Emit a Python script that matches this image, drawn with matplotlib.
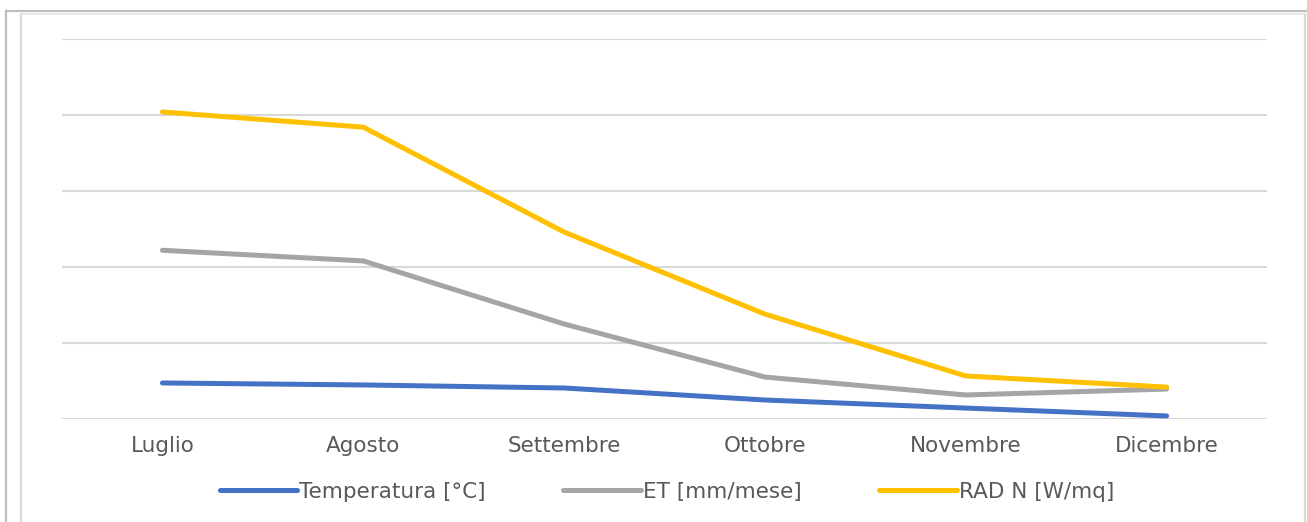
import numpy as np
import matplotlib.pyplot as plt
from matplotlib.lines import Line2D

# dati
mesi = ['Luglio', 'Agosto', 'Settembre', 'Ottobre', 'Novembre', 'Dicembre']
temperatura = [23.7, 22.4, 20.4, 12.5, 7.2, 2.0]
et = [111, 104, 62.5, 27.6, 15.8, 19.7]
rad = [202, 192, 123, 69, 28.3, 21]

plt.rcParams['font.family'] = ['DejaVu Sans']

W, H = 1307, 522
fig = plt.figure(figsize=(W / 100, H / 100), dpi=100)
ax = fig.add_axes([62 / W, 1 - 419 / H, (1267 - 62) / W, (419 - 39) / H])

x = np.arange(len(mesi))
ax.plot(x, temperatura, color='#4472C4', lw=3.6, solid_capstyle='round', label='Temperatura [°C]')
ax.plot(x, et, color='#A5A5A5', lw=3.6, solid_capstyle='round', label='ET [mm/mese]')
ax.plot(x, rad, color='#FFC000', lw=3.6, solid_capstyle='round', label='RAD N [W/mq]')

ax.set_xlim(-0.5, len(mesi) - 0.5)
ax.set_ylim(0, 250)
ax.set_yticks(np.arange(0, 251, 50))
ax.set_yticklabels([])
ax.yaxis.grid(True, color='#d9d9d9', lw=1.5)
ax.set_axisbelow(True)
ax.tick_params(axis='y', length=0)
ax.set_xticks(x)
ax.set_xticklabels(mesi, fontsize=15.5, color='#595959')
ax.tick_params(axis='x', length=0, pad=12)
for s in ax.spines.values():
    s.set_visible(False)

leg = ax.legend(loc='center', bbox_to_anchor=(667 / W, 1 - 492 / H), bbox_transform=fig.transFigure,
                ncol=3, frameon=False, fontsize=15.5, handlelength=3.6, handletextpad=0.1,
                columnspacing=3.6)
for t in leg.get_texts():
    t.set_color('#595959')

# cornice del grafico
def px_line(xs, ys, c, lw):
    fig.add_artist(Line2D([v / W for v in xs], [1 - v / H for v in ys], color=c, lw=lw,
                          transform=fig.transFigure))

px_line([6, 6], [522, 11], '#bfbfbf', 1.6)
px_line([6, 1307], [11, 11], '#bfbfbf', 1.6)
px_line([21, 21], [522, 14], '#d9d9d9', 1.6)
px_line([21, 1305], [14, 14], '#e6e6e6', 1.2)
px_line([1305, 1305], [14, 522], '#d9d9d9', 1.6)

fig.savefig('out.png', dpi=100)
